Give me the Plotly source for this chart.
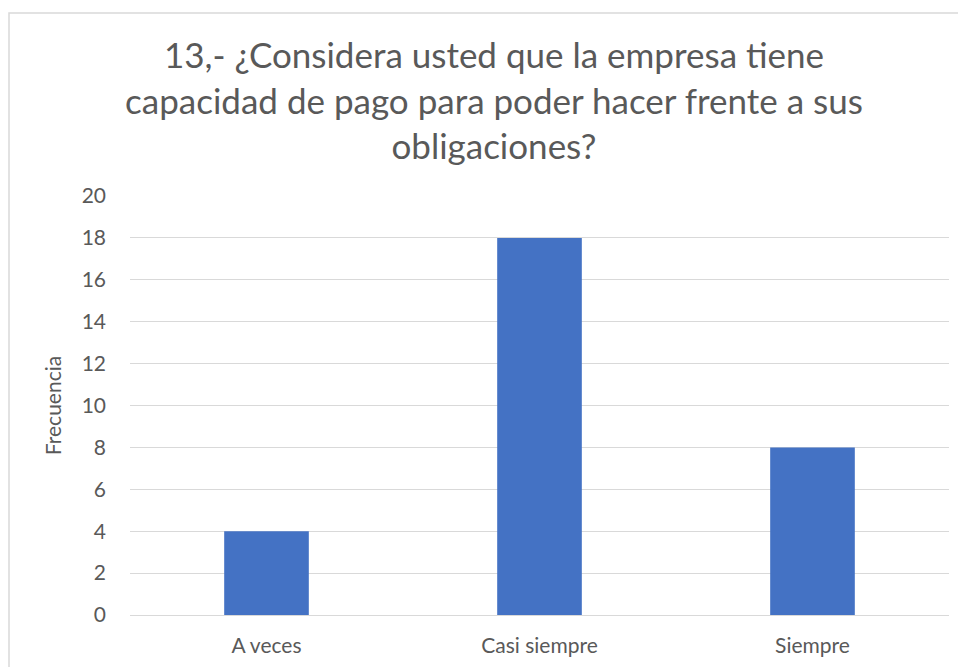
import plotly.graph_objects as go

categorias = ["A veces", "Casi siempre", "Siempre"]
frecuencia = [4, 18, 8]
titulo = "13,- ¿Considera usted que la empresa tiene<br>capacidad de pago para poder hacer frente a sus<br>obligaciones?"

gris = "#595959"
fig = go.Figure()
fig.add_trace(go.Bar(
    x=categorias,
    y=frecuencia,
    marker=dict(color="#4472C4", line=dict(width=0)),
    width=0.31,
))

# la página tiene 8px de margen en el body, se compensa aquí
fig.update_layout(
    width=966, height=667,
    margin=dict(l=122, r=25, t=188, b=60),
    paper_bgcolor="white",
    plot_bgcolor="white",
    font=dict(family="Lato, Open Sans, sans-serif", color=gris),
    title=dict(
        text=titulo,
        x=486 / 966, xanchor="center",
        y=1 - 60 / 667, yanchor="middle",
        font=dict(size=35, color=gris),
    ),
    showlegend=False,
    shapes=[dict(
        type="rect", xref="paper", yref="paper",
        x0=(1 - 122) / 819, x1=1.1, y0=-0.3, y1=(607 - 5) / 419,
        line=dict(color="#d9d9d9", width=1.5),
    )],
)
fig.update_yaxes(
    range=[0, 20], dtick=2,
    showgrid=True, gridcolor="#d9d9d9", gridwidth=1,
    zeroline=True, zerolinecolor="#d9d9d9", zerolinewidth=1,
    tickfont=dict(size=21, color=gris),
    ticklabelstandoff=23,
    title=dict(text="Frecuencia", font=dict(size=21, color=gris), standoff=14),
)
fig.update_xaxes(
    tickfont=dict(size=21, color=gris),
    showline=False,
    ticklabelstandoff=16,
)

fig.write_html("out.html")
